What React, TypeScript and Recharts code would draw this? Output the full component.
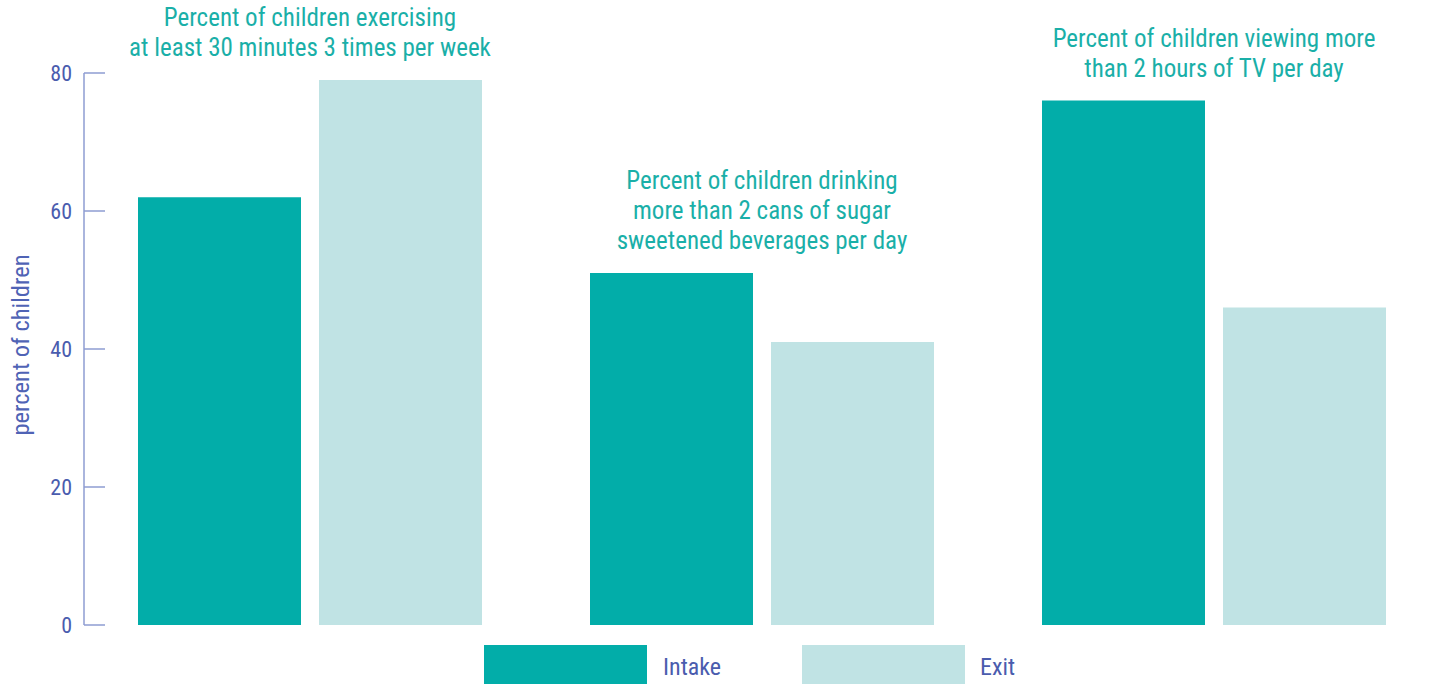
import { BarChart, Bar, XAxis, YAxis, LabelList } from 'recharts';

const categories = ['Exercise', 'Sugar drinks', 'TV'];
const intake = [62, 51, 76];
const exit = [79, 41, 46];
const notes = [
  ['Percent of children exercising', 'at least 30 minutes 3 times per week'],
  ['Percent of children drinking', 'more than 2 cans of sugar', 'sweetened beverages per day'],
  ['Percent of children viewing more', 'than 2 hours of TV per day'],
];
const yTicks = [0, 20, 40, 60, 80];

const data = categories.map((name, i) => ({
  name,
  intake: intake[i],
  exit: exit[i],
  top: Math.max(intake[i], exit[i]),
}));

const FONT = "'Roboto Condensed', 'Liberation Sans Narrow', 'DejaVu Sans Condensed', Roboto, sans-serif";
const TEAL = '#02ada9';
const LIGHT = '#c0e3e4';
const NOTE = '#1aafa8';
const AXIS_TEXT = '#4a5cae';
const BAR_GAP = 18;

// ticks point inward, label sits left of the axis
const YTick = (props: any) => {
  const { x, y, payload } = props;
  return (
    <g>
      <line x1={x} y1={y} x2={x + 21} y2={y} stroke="#8e9cd2" strokeWidth={1.5} />
      <text x={x - 12} y={y} dy={8} textAnchor="end" fill={AXIS_TEXT} fontSize={22} fontFamily={FONT}>
        {payload.value}
      </text>
    </g>
  );
};

const NoteLabel = (props: any) => {
  const { x, y, width, height, value, index } = props;
  const base = y + height;
  const top = data[index].top;
  const topY = base - (height * top) / value;
  const cx = x - BAR_GAP / 2;
  const lines = notes[index];
  return (
    <text textAnchor="middle" fill={NOTE} fontSize={25} fontFamily={FONT}>
      {lines.map((l, i) => (
        <tspan key={i} x={cx} y={topY - 24 - (lines.length - 1 - i) * 30}>
          {l}
        </tspan>
      ))}
    </text>
  );
};

export default function App() {
  return (
    <div style={{ position: 'absolute', left: 0, top: 0, width: 1444, height: 684, background: '#fff' }}>
      <BarChart
        width={1444}
        height={645}
        data={data}
        margin={{ top: 73, right: 4, bottom: 20, left: 0 }}
        barGap={BAR_GAP}
        barSize={163}
      >
        <XAxis dataKey="name" tick={false} tickLine={false} height={0} axisLine={{ stroke: '#4a67c0', strokeWidth: 2 }} />
        <YAxis
          width={84}
          domain={[0, 80]}
          ticks={yTicks}
          tickLine={false}
          tickSize={0}
          tickMargin={0}
          tick={<YTick />}
          axisLine={{ stroke: '#8e9cd2', strokeWidth: 1.5 }}
          label={{
            value: 'percent of children',
            angle: -90,
            position: 'insideLeft',
            dx: 15,
            dy: -4,
            style: { fill: '#4f63b5', fontSize: 24.5, fontFamily: FONT, textAnchor: 'middle' },
          }}
        />
        <Bar dataKey="intake" fill={TEAL} isAnimationActive={false} />
        <Bar dataKey="exit" fill={LIGHT} isAnimationActive={false}>
          <LabelList dataKey="exit" content={<NoteLabel />} />
        </Bar>
      </BarChart>
      <div style={{ position: 'absolute', left: 484, top: 645, width: 163, height: 39, background: TEAL }} />
      <div style={{ position: 'absolute', left: 663, top: 653, fontFamily: FONT, fontSize: 24, color: AXIS_TEXT }}>Intake</div>
      <div style={{ position: 'absolute', left: 802, top: 645, width: 163, height: 39, background: LIGHT }} />
      <div style={{ position: 'absolute', left: 980, top: 653, fontFamily: FONT, fontSize: 24, color: AXIS_TEXT }}>Exit</div>
    </div>
  );
}
